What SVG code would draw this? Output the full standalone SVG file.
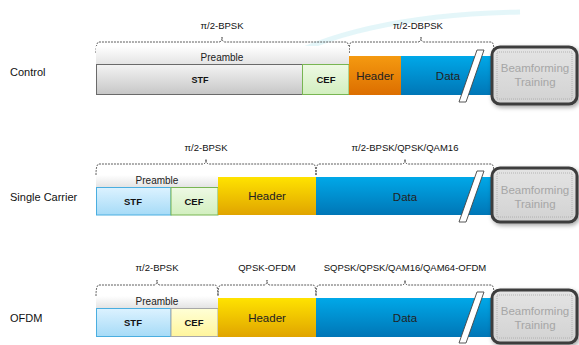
<svg xmlns="http://www.w3.org/2000/svg" width="579" height="345" viewBox="0 0 579 345">
<defs>
<linearGradient id="gStfGray" x1="0" y1="0" x2="0" y2="1"><stop offset="0" stop-color="#f4f4f4"/><stop offset="1" stop-color="#c6c6c6"/></linearGradient>
<linearGradient id="gCefGreen" x1="0" y1="0" x2="0" y2="1"><stop offset="0" stop-color="#eef9e4"/><stop offset="1" stop-color="#d2efbf"/></linearGradient>
<linearGradient id="gHdrOrange" x1="0" y1="0" x2="0" y2="1"><stop offset="0" stop-color="#f59a10"/><stop offset="1" stop-color="#dc6e00"/></linearGradient>
<linearGradient id="gData" x1="0" y1="0" x2="0" y2="1"><stop offset="0" stop-color="#00a8e8"/><stop offset="1" stop-color="#0076b6"/></linearGradient>
<linearGradient id="gStfBlue" x1="0" y1="0" x2="0" y2="1"><stop offset="0" stop-color="#dcf2ff"/><stop offset="1" stop-color="#a6dbf7"/></linearGradient>
<linearGradient id="gHdrYellow" x1="0" y1="0" x2="0" y2="1"><stop offset="0" stop-color="#ffe300"/><stop offset="1" stop-color="#e0a400"/></linearGradient>
<linearGradient id="gCefYellow" x1="0" y1="0" x2="0" y2="1"><stop offset="0" stop-color="#ffffd6"/><stop offset="1" stop-color="#fff59c"/></linearGradient>
<linearGradient id="gPre" x1="0" y1="0" x2="0" y2="1"><stop offset="0" stop-color="#ffffff"/><stop offset="1" stop-color="#e4e4e4"/></linearGradient>
<linearGradient id="gBf" x1="0" y1="0" x2="0" y2="1"><stop offset="0" stop-color="#e4e4e4"/><stop offset="1" stop-color="#d2d2d2"/></linearGradient>
<filter id="shadow" x="-20%" y="-20%" width="140%" height="140%"><feDropShadow dx="1.5" dy="2" stdDeviation="2" flood-color="#000" flood-opacity="0.35"/></filter>
</defs>
<style>
text{font-family:"Liberation Sans",Arial,sans-serif;fill:#111}
.row{font-size:11px}
.mod{font-size:9.5px;text-anchor:middle}
.pre{font-size:10px;text-anchor:middle;fill:#222}
.fld{font-size:9.5px;font-weight:bold;text-anchor:middle}
.big{font-size:11.5px;text-anchor:middle;fill:#222}
.bf{font-size:11.5px;text-anchor:middle;fill:#a6a6a6}
.brace{fill:none;stroke:#333;stroke-width:0.8;stroke-dasharray:2 1}
.bfbox{fill:url(#gBf);stroke:#3c3c3c;stroke-width:3;filter:url(#shadow)}
.bfin{fill:none;stroke:#a8a8a8;stroke-width:0.8;stroke-dasharray:1 1}
.slash{fill:#fff;stroke:#444;stroke-width:0.9}
.preb{fill:url(#gPre);stroke:none}
</style>

<path d="M270 66 C330 30 420 14 520 12" fill="none" stroke="#c4ecf2" stroke-width="5" opacity="0.45"/>

<g id="labels">
<text class="row" x="10" y="76">Control</text>
<text class="row" x="10" y="201">Single Carrier</text>
<text class="row" x="10" y="322">OFDM</text>
</g>

<g id="connectors">
<path class="brace" d="M96 53 Q96 42 99 42 L219 42 Q222 42 222 37 Q222 42 225 42 L346 42 Q349 42 349 53"/>
<path class="brace" d="M349 53 Q349 42 352 42 L418 42 Q421 42 421 37 Q421 42 424 42 L491 42 Q494 42 494 52"/>
<path class="brace" d="M96 175 Q96 164 99 164 L203 164 Q206 164 206 159 Q206 164 209 164 L313 164 Q316 164 316 175"/>
<path class="brace" d="M316 175 Q316 164 319 164 L402 164 Q405 164 405 159 Q405 164 408 164 L491 164 Q494 164 494 174"/>
<path class="brace" d="M96 296 Q96 285 99 285 L154 285 Q157 285 157 280 Q157 285 160 285 L215 285 Q218 285 218 296"/>
<path class="brace" d="M218 296 Q218 285 221 285 L264 285 Q267 285 267 280 Q267 285 270 285 L313 285 Q316 285 316 296"/>
<path class="brace" d="M316 296 Q316 285 319 285 L402 285 Q405 285 405 280 Q405 285 408 285 L491 285 Q494 285 494 295"/>
</g>

<g id="mod-labels">
<text class="mod" x="222" y="29">π/2-BPSK</text>
<text class="mod" x="418" y="29">π/2-DBPSK</text>
<text class="mod" x="206" y="151">π/2-BPSK</text>
<text class="mod" x="405" y="151">π/2-BPSK/QPSK/QAM16</text>
<text class="mod" x="157" y="271">π/2-BPSK</text>
<text class="mod" x="267" y="271">QPSK-OFDM</text>
<text class="mod" x="405" y="271">SQPSK/QPSK/QAM16/QAM64-OFDM</text>
</g>

<!-- Row 1: Control -->
<g id="c-preamble"><rect class="preb" x="96" y="46" width="253" height="18"/><text class="pre" x="222" y="61">Preamble</text></g>
<g id="c-stf"><rect x="96.5" y="64.5" width="206" height="30" fill="url(#gStfGray)" stroke="#6a6a6a" stroke-width="1"/><text class="fld" x="200" y="83" style="font-size:9px">STF</text></g>
<g id="c-cef"><rect x="302.5" y="64.5" width="46.5" height="30" fill="url(#gCefGreen)" stroke="#78b552" stroke-width="1"/><text class="fld" x="326" y="83">CEF</text></g>
<g id="c-header"><rect x="349" y="56" width="52" height="39" fill="url(#gHdrOrange)"/><text class="big" x="375" y="80">Header</text></g>
<g id="c-data"><rect x="401" y="56" width="91" height="39" fill="url(#gData)"/><text class="big" x="448" y="80">Data</text><polygon class="slash" points="477,50 484,50 466,102 459,102"/></g>
<g id="c-bf"><rect class="bfbox" x="492" y="47" width="85" height="57" rx="8"/><rect class="bfin" x="497" y="52" width="75" height="47"/><text class="bf" x="535" y="72">Beamforming</text><text class="bf" x="535" y="86">Training</text></g>

<!-- Row 2: Single Carrier -->
<g id="s-preamble"><rect class="preb" x="96" y="175" width="122" height="12"/><text class="pre" x="157" y="184">Preamble</text></g>
<g id="s-stf"><rect x="96.5" y="187.5" width="74.5" height="27.5" fill="url(#gStfBlue)" stroke="#4aaee0" stroke-width="1"/><text class="fld" x="133" y="205">STF</text></g>
<g id="s-cef"><rect x="171" y="187.5" width="47" height="27.5" fill="url(#gCefGreen)" stroke="#78b552" stroke-width="1"/><text class="fld" x="194" y="205">CEF</text></g>
<g id="s-header"><rect x="218" y="177" width="98" height="38" fill="url(#gHdrYellow)"/><text class="big" x="267" y="200">Header</text></g>
<g id="s-data"><rect x="316" y="177" width="176" height="38" fill="url(#gData)"/><text class="big" x="405" y="201">Data</text><polygon class="slash" points="477,171 484,171 466,222 459,222"/></g>
<g id="s-bf"><rect class="bfbox" x="492" y="168" width="85" height="54" rx="8"/><rect class="bfin" x="497" y="173" width="75" height="44"/><text class="bf" x="535" y="194">Beamforming</text><text class="bf" x="535" y="208">Training</text></g>

<!-- Row 3: OFDM -->
<g id="o-preamble"><rect class="preb" x="96" y="296" width="122" height="12"/><text class="pre" x="157" y="305">Preamble</text></g>
<g id="o-stf"><rect x="96.5" y="308.5" width="74.5" height="28" fill="url(#gStfBlue)" stroke="#4aaee0" stroke-width="1"/><text class="fld" x="133" y="326">STF</text></g>
<g id="o-cef"><rect x="171" y="308.5" width="47" height="28" fill="url(#gCefYellow)" stroke="#a8a8a8" stroke-width="1"/><text class="fld" x="194" y="326">CEF</text></g>
<g id="o-header"><rect x="218" y="298" width="98" height="39" fill="url(#gHdrYellow)"/><text class="big" x="267" y="322">Header</text></g>
<g id="o-data"><rect x="316" y="298" width="176" height="39" fill="url(#gData)"/><text class="big" x="405" y="322">Data</text><polygon class="slash" points="477,292 484,292 466,343 459,343"/></g>
<g id="o-bf"><rect class="bfbox" x="492" y="290" width="85" height="53" rx="8"/><rect class="bfin" x="497" y="295" width="75" height="43"/><text class="bf" x="535" y="315">Beamforming</text><text class="bf" x="535" y="329">Training</text></g>
</svg>
